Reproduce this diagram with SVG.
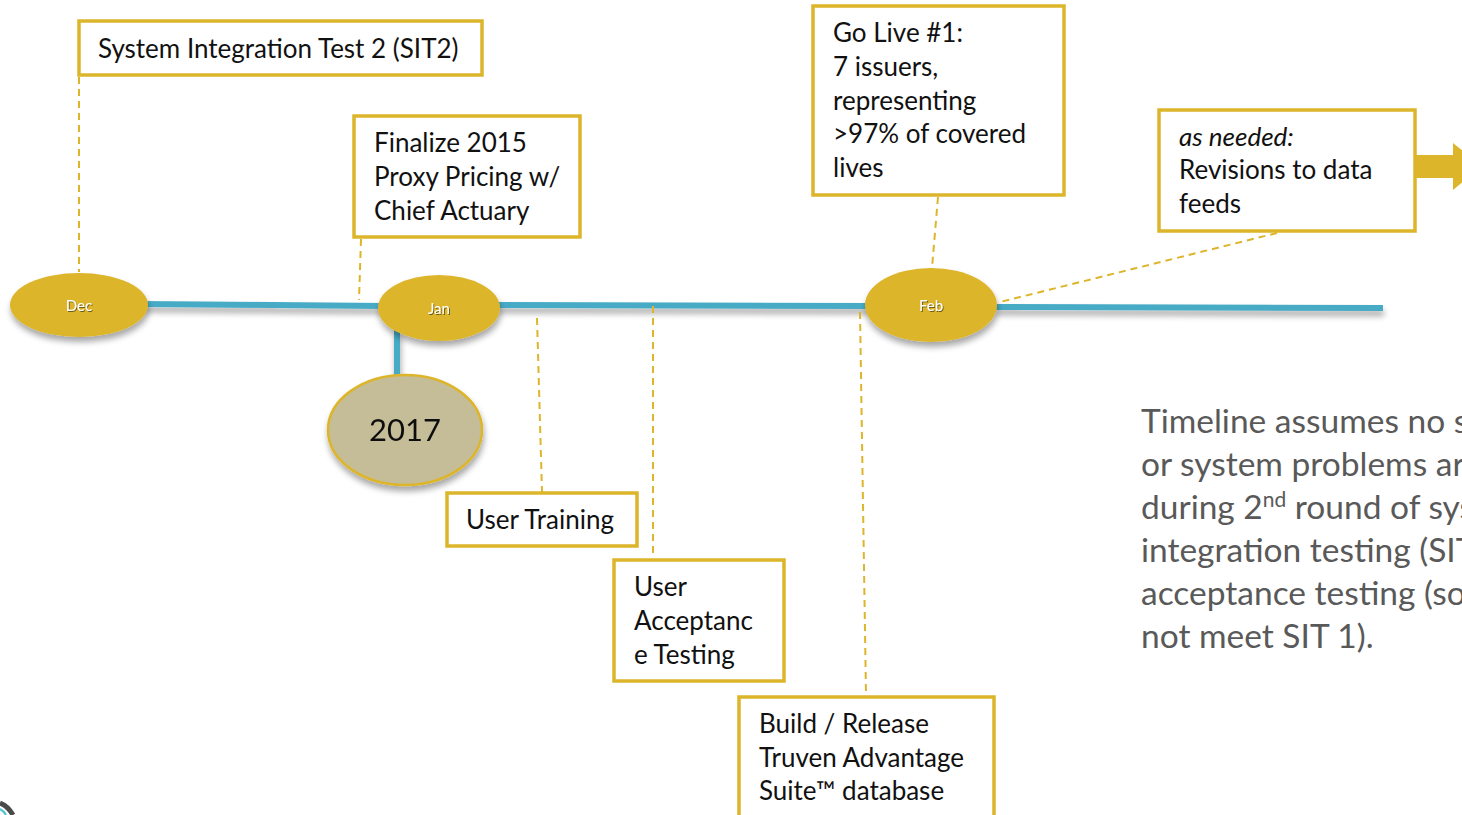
<svg xmlns="http://www.w3.org/2000/svg" width="1462" height="815" viewBox="0 0 1462 815">
  <defs>
    <style>
      .box { fill: #ffffff; stroke: #DDB52B; stroke-width: 3.5; }
      .lbl { font-family: Lato, "Open Sans", "Liberation Sans", sans-serif; font-size: 26px; fill: #111111; }
      .lead { fill: none; stroke: #DDB52B; stroke-width: 2; stroke-dasharray: 7 5; }
      .axis { fill: none; stroke: #47ABC6; stroke-width: 6; }
      .month { fill: #DDB52B; }
      .mtxt { font-family: Lato, "Open Sans", "Liberation Sans", sans-serif; font-size: 15px; fill: #ffffff; text-anchor: middle; }
      .note { font-family: Lato, "Open Sans", "Liberation Sans", sans-serif; font-size: 33.5px; fill: #595959; }
    </style>
    <filter id="shadow" x="-20%" y="-20%" width="140%" height="160%">
      <feGaussianBlur in="SourceAlpha" stdDeviation="3"/>
      <feOffset dx="1" dy="5" result="b"/>
      <feComponentTransfer><feFuncA type="linear" slope="0.35"/></feComponentTransfer>
      <feMerge><feMergeNode/><feMergeNode in="SourceGraphic"/></feMerge>
    </filter>
    <filter id="tshadow" x="-20%" y="-20%" width="140%" height="160%">
      <feGaussianBlur in="SourceAlpha" stdDeviation="0.6"/>
      <feOffset dx="1" dy="1"/>
      <feComponentTransfer><feFuncA type="linear" slope="0.5"/></feComponentTransfer>
      <feMerge><feMergeNode/><feMergeNode in="SourceGraphic"/></feMerge>
    </filter>
  </defs>

  <rect width="1462" height="815" fill="#ffffff"/>

  <!-- timeline axis and leader lines -->
  <g id="connectors">
    <g filter="url(#shadow)">
      <path class="axis" d="M140 304 L385 306 M495 305 L870 306 M995 307 L1383 308"/>
      <path class="axis" d="M397 330 L397 378"/>
    </g>
    <path class="lead" d="M79 77 L79 272"/>
    <path class="lead" d="M361 239 L359 300"/>
    <path class="lead" d="M938 197 L932 268"/>
    <path class="lead" d="M1277 233 L1000 302"/>
    <path class="lead" d="M537 318 L542 492"/>
    <path class="lead" d="M653 306 L653 558"/>
    <path class="lead" d="M860 312 L866 695"/>
  </g>

  <!-- month markers -->
  <g id="dec" filter="url(#shadow)">
    <ellipse class="month" cx="79" cy="305" rx="69" ry="32"/>
    <text class="mtxt" x="79" y="311" filter="url(#tshadow)">Dec</text>
  </g>
  <g id="jan" filter="url(#shadow)">
    <ellipse class="month" cx="439" cy="308" rx="61" ry="33"/>
    <text class="mtxt" x="439" y="314" filter="url(#tshadow)">Jan</text>
  </g>
  <g id="feb" filter="url(#shadow)">
    <ellipse class="month" cx="931" cy="305" rx="66" ry="37"/>
    <text class="mtxt" x="931" y="311" filter="url(#tshadow)">Feb</text>
  </g>
  <g id="year2017" filter="url(#shadow)">
    <ellipse cx="405" cy="430" rx="77" ry="55" fill="#C4BD97" stroke="#DDB52B" stroke-width="2.5"/>
    <text x="405" y="441" text-anchor="middle" font-family="Lato, 'Open Sans', 'Liberation Sans', sans-serif" font-size="31" fill="#111111">2017</text>
  </g>

  <!-- milestone boxes -->
  <g id="sit2">
    <rect class="box" x="79" y="21" width="403" height="54"/>
    <text class="lbl" x="98" y="58">System Integration Test 2 (SIT2)</text>
  </g>
  <g id="proxy-pricing">
    <rect class="box" x="354" y="116" width="226" height="121"/>
    <text class="lbl" x="374" y="152">Finalize 2015</text>
    <text class="lbl" x="374" y="186">Proxy Pricing w/</text>
    <text class="lbl" x="374" y="220">Chief Actuary</text>
  </g>
  <g id="go-live">
    <rect class="box" x="813" y="6" width="251" height="189"/>
    <text class="lbl" x="833" y="42">Go Live #1:</text>
    <text class="lbl" x="833" y="76">7 issuers,</text>
    <text class="lbl" x="833" y="110">representing</text>
    <text class="lbl" x="833" y="143">&gt;97% of covered</text>
    <text class="lbl" x="833" y="177">lives</text>
  </g>
  <g id="revisions">
    <path d="M1415 155 L1453 155 L1453 143 L1482 166 L1453 190 L1453 178 L1415 178 Z" fill="#DDB52B"/>
    <rect class="box" x="1159" y="110" width="256" height="121"/>
    <text class="lbl" x="1179" y="146" font-style="italic">as needed:</text>
    <text class="lbl" x="1179" y="179">Revisions to data</text>
    <text class="lbl" x="1179" y="213">feeds</text>
  </g>
  <g id="user-training">
    <rect class="box" x="447" y="493" width="190" height="53"/>
    <text class="lbl" x="466" y="529">User Training</text>
  </g>
  <g id="uat">
    <rect class="box" x="614" y="560" width="170" height="121"/>
    <text class="lbl" x="634" y="596">User</text>
    <text class="lbl" x="634" y="630">Acceptanc</text>
    <text class="lbl" x="634" y="664">e Testing</text>
  </g>
  <g id="build-release">
    <rect class="box" x="739" y="697" width="255" height="130"/>
    <text class="lbl" x="759" y="733">Build / Release</text>
    <text class="lbl" x="759" y="767">Truven Advantage</text>
    <text class="lbl" x="759" y="800">Suite™ database</text>
  </g>

  <!-- side note, running off the right edge -->
  <g id="note">
    <text class="note" x="1141" y="433">Timeline assumes no s</text>
    <text class="note" x="1141" y="476">or system problems ar</text>
    <text class="note" x="1141" y="519">during 2<tspan font-size="21" dy="-12">nd</tspan><tspan dy="12"> round of sys</tspan></text>
    <text class="note" x="1141" y="562">integration testing (SIT</text>
    <text class="note" x="1141" y="605">acceptance testing (so</text>
    <text class="note" x="1141" y="648">not meet SIT 1).</text>
  </g>

  <!-- corner ring fragment -->
  <path d="M0 803 Q8 806 13 815" fill="none" stroke="#4a4a4a" stroke-width="5"/>
  <path d="M0 809 Q4 811 6 815" fill="none" stroke="#4BC3D6" stroke-width="2"/>
</svg>
